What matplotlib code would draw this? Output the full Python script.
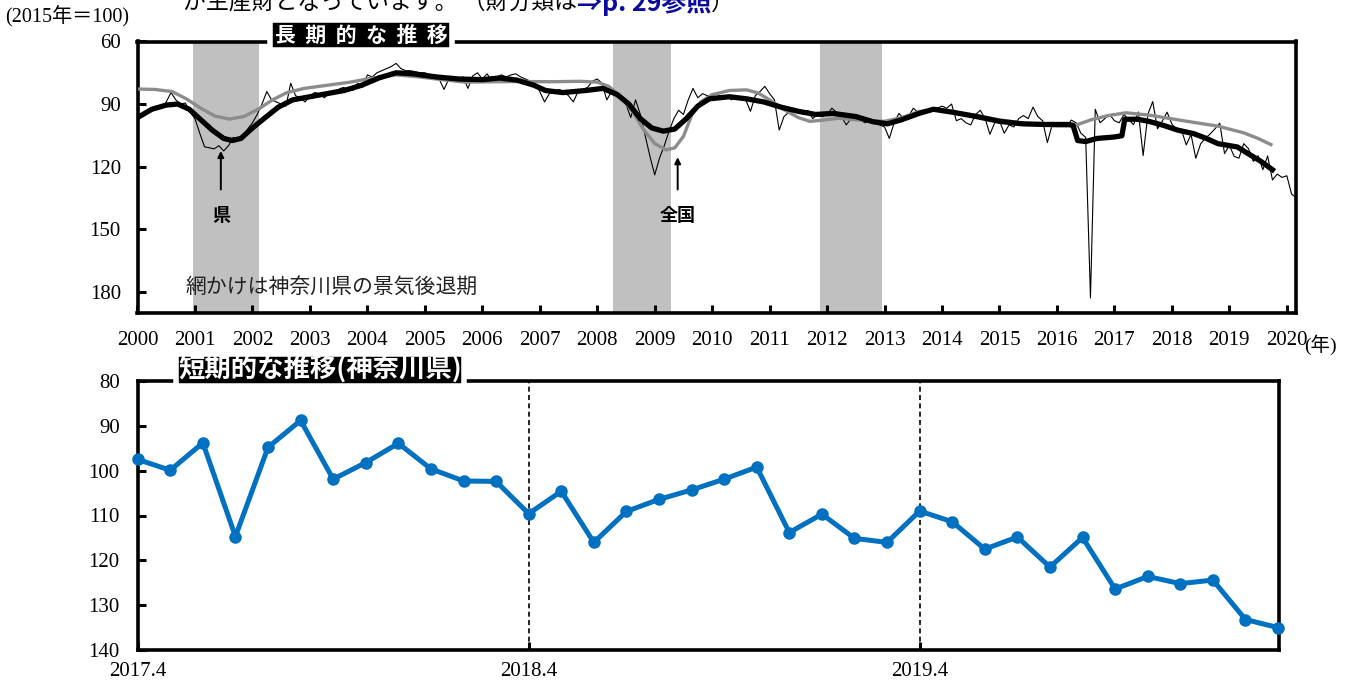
import numpy as np
import matplotlib
matplotlib.use('Agg')
import matplotlib.pyplot as plt

plt.rcParams['font.family'] = ['Liberation Serif', 'Noto Sans CJK JP']
JP = ['Noto Sans CJK JP', 'DejaVu Sans']

# 神奈川県 鉱工業在庫指数 (monthly, 2000.1 - 2017.3)
kana_early = [
    97, 95, 93.5, 92, 91.5, 92, 89, 84.5, 88, 90, 89.5, 94,            # 2000
    97, 104, 110.5, 111, 111.5, 110, 112.5, 110, 106, 107.5, 106, 102,  # 2001
    99, 95, 90, 84, 88, 89, 90, 91, 80, 86, 87, 89,                     # 2002
    86, 84.5, 85, 87, 85, 84, 83, 82, 83, 83.5, 80, 82,                 # 2003
    76, 77, 75, 74, 73, 72, 70.5, 73, 74, 74, 74.5, 75,                 # 2004
    75, 76, 77, 78, 83, 78, 77, 78, 77, 82.5, 76.5, 75,                 # 2005
    78, 75.5, 79, 77, 76, 77, 76, 75.5, 77, 78, 79, 80,                 # 2006
    84, 89, 85, 84, 83, 84, 86, 89, 84, 83, 82, 79,                     # 2007
    78, 80, 88, 84, 85, 86, 90, 96.5, 88, 95, 105, 115,                 # 2008
    124, 116, 110, 103, 97, 93, 95, 88, 82.5, 87, 85, 86,               # 2009
    86, 85, 87, 86, 88, 86, 87, 88, 93.5, 86, 84, 81.5,                 # 2010
    85, 88, 102.5, 96, 94, 92, 93, 95, 93, 97, 95, 96,                  # 2011
    95, 92, 94, 96, 100, 97, 96, 98, 99, 97, 99, 100,                   # 2012
    101, 106.5, 99, 94.5, 97, 96, 92, 94, 93, 94, 93, 92,               # 2013
    91, 92, 90, 98, 97, 99, 100, 95, 93, 97, 104.5, 99,                 # 2014
    98, 104, 100, 101, 97, 95.5, 97, 91.5, 96, 98, 108.5, 100,          # 2015
    99, 100, 101, 97.7, 99, 104, 106, 183, 92.5, 99, 97, 95,            # 2016
    98, 99, 95,                                                         # 2017.1-3
]

# 短期 (2017.4 - 2020.3)
short_labels = ['2017.4', '2018.4', '2019.4']
short_vals = [
    97.5, 99.9, 93.8, 114.7, 94.8, 88.8, 101.9, 98.2, 93.9, 99.6, 102.3, 102.4,
    109.6, 104.6, 116.0, 109.1, 106.4, 104.3, 101.9, 99.2, 113.8, 109.7, 115.1, 116.0,
    109.0, 111.4, 117.5, 114.8, 121.5, 114.9, 126.4, 123.6, 125.2, 124.4, 133.2, 135.0,
]

# 傾向線 (県)
kana_trend_x = [2000.0, 2000.25, 2000.5, 2000.7, 2000.9, 2001.1, 2001.3, 2001.5, 2001.65, 2001.8,
                2002.0, 2002.2, 2002.45, 2002.7, 2003.0, 2003.3, 2003.6, 2003.9, 2004.2, 2004.5,
                2004.8, 2005.2, 2005.6, 2006.0, 2006.3, 2006.6, 2006.9, 2007.1, 2007.4, 2007.8,
                2008.1, 2008.35, 2008.55, 2008.75, 2008.95, 2009.15, 2009.35, 2009.55, 2009.75, 2009.95,
                2010.3, 2010.6, 2010.9, 2011.2, 2011.5, 2011.8, 2012.1, 2012.5, 2012.8, 2013.05,
                2013.3, 2013.6, 2013.85, 2014.2, 2014.6, 2015.0, 2015.4, 2015.8, 2016.2, 2016.28,
                2016.36, 2016.5, 2016.7, 2017.0, 2017.13, 2017.18, 2017.4, 2017.6, 2017.85, 2018.1,
                2018.38, 2018.6, 2018.8, 2019.14, 2019.38, 2019.55, 2019.75]
kana_trend = [96.5, 92.5, 90.5, 90, 92.5, 97.5, 102.5, 106.5, 107.5, 106.5,
              101.5, 97, 91.5, 88, 86.5, 85, 83.5, 81, 77.5, 75,
              75.5, 77, 78, 78.3, 77.5, 78.5, 81, 83.5, 84.5, 83.5,
              82.5, 85.5, 90, 97, 101.5, 103, 102, 97, 91, 87.5,
              86.5, 87.5, 89, 91.5, 93.5, 95, 94.5, 96, 98.5, 99.5,
              97.5, 94.5, 92.5, 94, 96, 98.3, 99.5, 99.8, 99.8, 100.2,
              107.5, 108, 106.5, 105.8, 105.2, 97.3, 97.3, 98.3, 100.2, 102.5,
              104.2, 106.5, 109, 110.6, 114.7, 117.5, 121.5]

# 傾向線 (全国)
nat_trend_x = [2000.0, 2000.3, 2000.6, 2000.85, 2001.1, 2001.35, 2001.6, 2001.85, 2002.1, 2002.35,
               2002.6, 2002.9, 2003.3, 2003.7, 2004.1, 2004.5, 2004.9, 2005.3, 2005.7, 2006.2,
               2006.7, 2007.2, 2007.7, 2008.0, 2008.2, 2008.4, 2008.6, 2008.8, 2009.0, 2009.2,
               2009.35, 2009.5, 2009.65, 2009.8, 2010.0, 2010.3, 2010.6, 2010.8, 2011.0, 2011.25,
               2011.5, 2011.7, 2011.9, 2012.2, 2012.6, 2013.0, 2013.3, 2013.6, 2013.85, 2014.2,
               2014.6, 2015.0, 2015.5, 2016.0, 2016.3, 2016.6, 2016.9, 2017.2, 2017.6, 2018.2,
               2018.8, 2019.25, 2019.5, 2019.75]
nat_trend = [82.8, 83.0, 84, 87.5, 92, 95.8, 97.2, 96, 92.5, 88,
             84.5, 82.5, 81, 79.5, 77.5, 76, 77, 78.3, 79.5, 79.3,
             79.2, 79.3, 79.1, 79.5, 81.5, 86, 93, 102, 109, 112,
             111, 105.5, 95, 89, 85.5, 83.5, 83.2, 84.7, 88, 92.7,
             96.5, 98.3, 97.8, 96.8, 97.8, 98.3, 96.5, 93.6, 92.7, 93.8,
             95.5, 97.6, 99.5, 100.5, 100.4, 97.5, 95.5, 94.2, 95.3, 98,
             100.6, 103.8, 106.5, 109.8]

# 景気後退期 (神奈川県)
recessions = [(2000.96, 2002.12), (2008.28, 2009.28), (2011.88, 2012.96)]

years = list(range(2000, 2021))

W, H = 1346, 684
fig = plt.figure(figsize=(W / 100, H / 100), dpi=100)

def px_axes(l, t, r, b):
    return fig.add_axes([l / W, 1 - b / H, (r - l) / W, (b - t) / H])

# ---------------- 長期的な推移 ----------------
ax1 = px_axes(137.5, 41.5, 1296, 312.5)
monthly = kana_early + short_vals
mx = 2000 + np.arange(len(monthly)) / 12

for a, b in recessions:
    ax1.axvspan(a, b, color='#c0c0c0', lw=0, zorder=0)

ax1.plot(mx, monthly, color='black', lw=0.8, zorder=2)
ax1.plot(nat_trend_x, nat_trend, color='#8c8c8c', lw=2.4, zorder=3,
         solid_capstyle='butt')
ax1.plot(kana_trend_x, kana_trend, color='black', lw=3.8, zorder=4,
         solid_joinstyle='round')

ax1.set_xlim(2000, 2020.16)
ax1.set_ylim(190, 60)
ax1.set_yticks([60, 90, 120, 150, 180])
ax1.set_xticks(years)
ax1.tick_params(axis='both', direction='in', length=6, width=2.2,
                labelsize=15)
ax1.tick_params(axis='y', pad=12)
ax1.tick_params(axis='x', pad=13)
for s in ax1.spines.values():
    s.set_linewidth(2.6)

ax1.annotate('', xy=(2001.45, 112.5), xytext=(2001.45, 131),
             arrowprops=dict(arrowstyle='-|>', color='black', lw=1.4,
                             mutation_scale=9, shrinkA=0, shrinkB=0))
ax1.text(2001.45, 143.5, '県', family=JP, fontsize=13, weight='bold',
         ha='center', va='center')
ax1.annotate('', xy=(2009.4, 115.5), xytext=(2009.4, 131),
             arrowprops=dict(arrowstyle='-|>', color='black', lw=1.4,
                             mutation_scale=9, shrinkA=0, shrinkB=0))
ax1.text(2009.4, 143.5, '全国', family=JP, fontsize=13, weight='bold',
         ha='center', va='center')
ax1.text(2003.38, 177.5, '網かけは神奈川県の景気後退期', family=JP,
         fontsize=15, ha='center', va='center', color='#222222')

ax1.text(361 / W, 1 - 35 / H, '長  期  的  な  推  移', transform=fig.transFigure,
         family=JP, fontsize=15, weight='bold', color='white',
         ha='center', va='center', zorder=10,
         bbox=dict(facecolor='black', edgecolor='white', lw=4, pad=3))

fig.text(5 / W, 1 - 17 / H, '(2015年＝100)', fontsize=14.5, va='center', ha='left')
fig.text(1304 / W, 1 - 345 / H, '(年)', fontsize=14, va='center', ha='left')

# ---------------- 短期的な推移 ----------------
ax2 = px_axes(137.7, 381, 1279, 650)
sx = np.arange(len(short_vals))
ax2.plot(sx, short_vals, color='#0070c0', lw=3.6, marker='o', ms=8,
         zorder=3, clip_on=False)
for i in (12, 24):
    ax2.axvline(i, color='black', lw=1.2, ls=(0, (3, 2)), zorder=2)

ax2.set_xlim(0, 35.03)
ax2.set_ylim(140, 80)
ax2.set_yticks(range(80, 141, 10))
ax2.set_xticks([0, 12, 24])
ax2.set_xticklabels(short_labels)
ax2.tick_params(axis='both', direction='in', length=6, width=2.2,
                labelsize=15)
ax2.tick_params(axis='y', pad=13)
ax2.tick_params(axis='x', pad=9)
for s in ax2.spines.values():
    s.set_linewidth(2.6)

fig.text(320 / W, 1 - 370 / H, '短期的な推移(神奈川県)', family=JP, fontsize=19,
         weight='bold', color='white', ha='center', va='center', zorder=10,
         bbox=dict(facecolor='black', edgecolor='white', lw=4, pad=1.5))

# 上端の本文 (下半分のみ見える)
renderer = fig.canvas.get_renderer()
ty = 1 - 3 / H
t1 = fig.text(183 / W, ty, 'が生産財となっています。 （財分類は', family=JP,
              fontsize=16.5, va='center', ha='left')
bb = t1.get_window_extent(renderer)
t2 = fig.text(bb.x1 / W, ty, '⇒p. 29参照', family=JP, fontsize=18,
              weight='bold', color='#0a0a9c', va='center', ha='left')
bb = t2.get_window_extent(renderer)
fig.text(bb.x1 / W, ty, '）', family=JP, fontsize=16.5, va='center', ha='left')

fig.savefig('out.png', dpi=100)
